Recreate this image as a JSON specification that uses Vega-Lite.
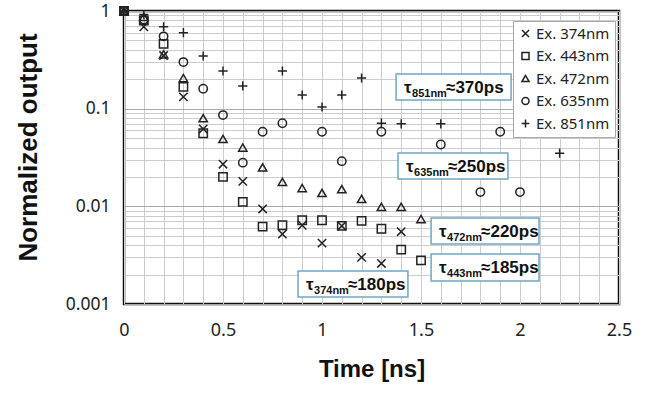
{
  "$schema": "https://vega.github.io/schema/vega-lite/v6.json",
  "width": 495,
  "height": 293,
  "autosize": {"type": "none"},
  "padding": {"left": 124, "top": 11, "right": 37, "bottom": 90},
  "background": "white",
  "config": {
    "view": {"stroke": "#111", "strokeWidth": 2.5}
  },
  "datasets": {
    "points": [
      {"series": "Ex. 374nm", "t": 0, "v": 1},
      {"series": "Ex. 374nm", "t": 0.1, "v": 0.69},
      {"series": "Ex. 374nm", "t": 0.2, "v": 0.35},
      {"series": "Ex. 374nm", "t": 0.3, "v": 0.132},
      {"series": "Ex. 374nm", "t": 0.4, "v": 0.062},
      {"series": "Ex. 374nm", "t": 0.5, "v": 0.027},
      {"series": "Ex. 374nm", "t": 0.6, "v": 0.018},
      {"series": "Ex. 374nm", "t": 0.7, "v": 0.0094},
      {"series": "Ex. 374nm", "t": 0.8, "v": 0.0052},
      {"series": "Ex. 374nm", "t": 0.9, "v": 0.0064},
      {"series": "Ex. 374nm", "t": 1.0, "v": 0.0042},
      {"series": "Ex. 374nm", "t": 1.1, "v": 0.0063},
      {"series": "Ex. 374nm", "t": 1.2, "v": 0.0030},
      {"series": "Ex. 374nm", "t": 1.3, "v": 0.0026},
      {"series": "Ex. 374nm", "t": 1.4, "v": 0.0055},
      {"series": "Ex. 443nm", "t": 0, "v": 1},
      {"series": "Ex. 443nm", "t": 0.1, "v": 0.80},
      {"series": "Ex. 443nm", "t": 0.2, "v": 0.46},
      {"series": "Ex. 443nm", "t": 0.3, "v": 0.167},
      {"series": "Ex. 443nm", "t": 0.4, "v": 0.056},
      {"series": "Ex. 443nm", "t": 0.5, "v": 0.020},
      {"series": "Ex. 443nm", "t": 0.6, "v": 0.0111},
      {"series": "Ex. 443nm", "t": 0.7, "v": 0.0062},
      {"series": "Ex. 443nm", "t": 0.8, "v": 0.0064},
      {"series": "Ex. 443nm", "t": 0.9, "v": 0.0072},
      {"series": "Ex. 443nm", "t": 1.0, "v": 0.0072},
      {"series": "Ex. 443nm", "t": 1.1, "v": 0.0063},
      {"series": "Ex. 443nm", "t": 1.2, "v": 0.0071},
      {"series": "Ex. 443nm", "t": 1.3, "v": 0.0059},
      {"series": "Ex. 443nm", "t": 1.4, "v": 0.0036},
      {"series": "Ex. 443nm", "t": 1.5, "v": 0.0028},
      {"series": "Ex. 472nm", "t": 0, "v": 1},
      {"series": "Ex. 472nm", "t": 0.1, "v": 0.87},
      {"series": "Ex. 472nm", "t": 0.2, "v": 0.36},
      {"series": "Ex. 472nm", "t": 0.3, "v": 0.206},
      {"series": "Ex. 472nm", "t": 0.4, "v": 0.080},
      {"series": "Ex. 472nm", "t": 0.5, "v": 0.049},
      {"series": "Ex. 472nm", "t": 0.6, "v": 0.040},
      {"series": "Ex. 472nm", "t": 0.7, "v": 0.025},
      {"series": "Ex. 472nm", "t": 0.8, "v": 0.0178},
      {"series": "Ex. 472nm", "t": 0.9, "v": 0.0154},
      {"series": "Ex. 472nm", "t": 1.0, "v": 0.0137},
      {"series": "Ex. 472nm", "t": 1.1, "v": 0.015},
      {"series": "Ex. 472nm", "t": 1.2, "v": 0.0119},
      {"series": "Ex. 472nm", "t": 1.3, "v": 0.0099},
      {"series": "Ex. 472nm", "t": 1.4, "v": 0.0099},
      {"series": "Ex. 472nm", "t": 1.5, "v": 0.0074},
      {"series": "Ex. 635nm", "t": 0, "v": 1},
      {"series": "Ex. 635nm", "t": 0.1, "v": 0.82},
      {"series": "Ex. 635nm", "t": 0.2, "v": 0.55},
      {"series": "Ex. 635nm", "t": 0.3, "v": 0.30},
      {"series": "Ex. 635nm", "t": 0.4, "v": 0.16},
      {"series": "Ex. 635nm", "t": 0.5, "v": 0.086},
      {"series": "Ex. 635nm", "t": 0.6, "v": 0.028},
      {"series": "Ex. 635nm", "t": 0.7, "v": 0.058},
      {"series": "Ex. 635nm", "t": 0.8, "v": 0.071},
      {"series": "Ex. 635nm", "t": 1.0, "v": 0.058},
      {"series": "Ex. 635nm", "t": 1.1, "v": 0.029},
      {"series": "Ex. 635nm", "t": 1.3, "v": 0.058},
      {"series": "Ex. 635nm", "t": 1.6, "v": 0.043},
      {"series": "Ex. 635nm", "t": 1.8, "v": 0.014},
      {"series": "Ex. 635nm", "t": 1.9, "v": 0.058},
      {"series": "Ex. 635nm", "t": 2.0, "v": 0.014},
      {"series": "Ex. 851nm", "t": 0, "v": 1},
      {"series": "Ex. 851nm", "t": 0.1, "v": 0.92},
      {"series": "Ex. 851nm", "t": 0.2, "v": 0.69},
      {"series": "Ex. 851nm", "t": 0.3, "v": 0.60},
      {"series": "Ex. 851nm", "t": 0.4, "v": 0.346},
      {"series": "Ex. 851nm", "t": 0.5, "v": 0.243},
      {"series": "Ex. 851nm", "t": 0.6, "v": 0.171},
      {"series": "Ex. 851nm", "t": 0.8, "v": 0.243},
      {"series": "Ex. 851nm", "t": 0.9, "v": 0.138},
      {"series": "Ex. 851nm", "t": 1.0, "v": 0.104},
      {"series": "Ex. 851nm", "t": 1.1, "v": 0.138},
      {"series": "Ex. 851nm", "t": 1.2, "v": 0.206},
      {"series": "Ex. 851nm", "t": 1.3, "v": 0.071},
      {"series": "Ex. 851nm", "t": 1.4, "v": 0.070},
      {"series": "Ex. 851nm", "t": 1.6, "v": 0.070},
      {"series": "Ex. 851nm", "t": 2.2, "v": 0.035}
    ],
    "boxes": [
      {"t": 1.374, "t2": 1.955, "v": 0.1228, "v2": 0.2265},
      {"t": 1.384, "t2": 1.939, "v": 0.0191, "v2": 0.0352},
      {"t": 1.551, "t2": 2.096, "v": 0.00412, "v2": 0.0076},
      {"t": 1.551, "t2": 2.096, "v": 0.00172, "v2": 0.00326},
      {"t": 0.879, "t2": 1.434, "v": 0.00118, "v2": 0.00218}
    ],
    "labels": [
      {"t": 1.374, "v": 0.1668, "sub": "851nm", "main": "≈370ps"},
      {"t": 1.384, "v": 0.0259, "sub": "635nm", "main": "≈250ps"},
      {"t": 1.551, "v": 0.0056, "sub": "472nm", "main": "≈220ps"},
      {"t": 1.551, "v": 0.00237, "sub": "443nm", "main": "≈185ps"},
      {"t": 0.879, "v": 0.0016, "sub": "374nm", "main": "≈180ps"}
    ]
  },
  "encoding": {
    "x": {
      "field": "t",
      "type": "quantitative",
      "title": "Time [ns]",
      "scale": {"domain": [0, 2.5], "nice": false, "zero": false},
      "axis": {
        "values": [0, 0.1, 0.2, 0.3, 0.4, 0.5, 0.6, 0.7, 0.8, 0.9, 1, 1.1, 1.2, 1.3, 1.4, 1.5, 1.6, 1.7, 1.8, 1.9, 2, 2.1, 2.2, 2.3, 2.4, 2.5],
        "labelExpr": "abs(datum.value*2 - round(datum.value*2)) < 0.001 ? format(datum.value, '~g') : ''",
        "labelOverlap": false,
        "labelFlush": false,
        "labelBound": false,
        "grid": true,
        "gridColor": "#cccccc",
        "gridWidth": 1,
        "ticks": false,
        "tickSize": 0,
        "domain": false,
        "labelFont": "Noto Sans",
        "labelFontSize": 18,
        "labelColor": "#222",
        "labelPadding": 17,
        "titleFont": "Liberation Sans",
        "titleFontSize": 24,
        "titleFontWeight": "bold",
        "titleColor": "#111",
        "titlePadding": 18
      }
    },
    "y": {
      "field": "v",
      "type": "quantitative",
      "title": "Normalized output",
      "scale": {"type": "log", "domain": [0.001, 1], "nice": false},
      "axis": {
        "values": [0.001, 0.002, 0.003, 0.004, 0.005, 0.006, 0.007, 0.008, 0.009, 0.01, 0.02, 0.03, 0.04, 0.05, 0.06, 0.07, 0.08, 0.09, 0.1, 0.2, 0.3, 0.4, 0.5, 0.6, 0.7, 0.8, 0.9, 1],
        "labelExpr": "abs(log(datum.value)/LN10 - round(log(datum.value)/LN10)) < 0.001 ? format(datum.value, '~g') : ''",
        "labelOverlap": false,
        "labelFlush": false,
        "labelBound": false,
        "grid": true,
        "gridColor": {"condition": {"test": "abs(log(datum.value)/LN10 - round(log(datum.value)/LN10)) < 0.001", "value": "#a8a8a8"}, "value": "#cccccc"},
        "gridWidth": 1,
        "ticks": false,
        "tickSize": 0,
        "domain": false,
        "labelFont": "Noto Sans",
        "labelFontSize": 17.5,
        "labelColor": "#222",
        "labelPadding": 14,
        "titleFont": "Liberation Sans",
        "titleFontSize": 26,
        "titleFontWeight": "bold",
        "titleColor": "#111",
        "titlePadding": 24,
        "titleY": 136
      }
    }
  },
  "layer": [
    {
      "data": {"name": "boxes"},
      "mark": {"type": "rect", "fill": "white", "stroke": "#6fa6c6", "strokeWidth": 1.5},
      "encoding": {
        "x2": {"field": "t2"},
        "y2": {"field": "v2"}
      }
    },
    {
      "data": {"name": "labels"},
      "mark": {"type": "text", "align": "left", "baseline": "alphabetic", "dx": 8, "dy": 6, "font": "Liberation Sans", "fontSize": 17, "fontWeight": "bold", "color": "#111"},
      "encoding": {"text": {"value": "τ"}}
    },
    {
      "data": {"name": "labels"},
      "mark": {"type": "text", "align": "left", "baseline": "alphabetic", "dx": 16, "dy": 10, "font": "Liberation Sans", "fontSize": 11, "fontWeight": "bold", "color": "#111"},
      "encoding": {"text": {"field": "sub"}}
    },
    {
      "data": {"name": "labels"},
      "mark": {"type": "text", "align": "left", "baseline": "alphabetic", "dx": 50, "dy": 6, "font": "Liberation Sans", "fontSize": 17, "fontWeight": "bold", "color": "#111"},
      "encoding": {"text": {"field": "main"}}
    },
    {
      "data": {"name": "points"},
      "mark": {"type": "point", "filled": false, "strokeWidth": 1.5, "size": 70, "opacity": 1},
      "encoding": {
        "color": {"value": "#222"},
        "shape": {
          "field": "series",
          "type": "nominal",
          "scale": {
            "domain": ["Ex. 374nm", "Ex. 443nm", "Ex. 472nm", "Ex. 635nm", "Ex. 851nm"],
            "range": ["M-1,-1L1,1M-1,1L1,-1", "square", "triangle-up", "circle", "M-1.1,0L1.1,0M0,-1.1L0,1.1"]
          },
          "legend": {
            "title": null,
            "orient": "none",
            "legendX": 389,
            "legendY": 10,
            "labelFont": "Noto Sans",
            "labelFontSize": 15,
            "labelColor": "#222",
            "labelOffset": 3,
            "symbolSize": 50,
            "symbolStrokeWidth": 1.5,
            "symbolStrokeColor": "#222",
            "symbolFillColor": "transparent",
            "fillColor": "white",
            "strokeColor": "#aaaaaa",
            "padding": 5,
            "rowPadding": 6.5
          }
        }
      }
    }
  ]
}
